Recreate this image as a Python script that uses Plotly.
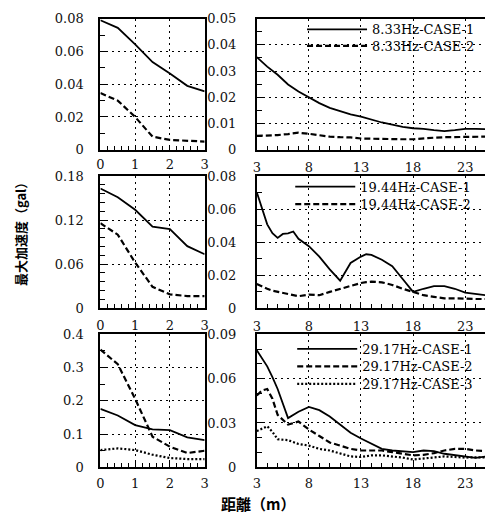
import plotly.graph_objects as go

W, H = 489, 521

# ---------------- data ----------------
# 8.33 Hz
x_near = [0, 0.5, 1, 1.5, 2, 2.5, 3]
f1_near_c1 = [0.079, 0.0744, 0.0643, 0.0535, 0.0465, 0.039, 0.0356]
f1_near_c2 = [0.0346, 0.030, 0.020, 0.008, 0.006, 0.0054, 0.005]

x_far = [3, 4, 5, 6, 7, 8, 9, 10, 11, 12, 13, 14, 15, 16, 17, 18, 19, 20, 21, 22, 23, 24, 25]
f1_far_c1 = [0.0353, 0.0317, 0.0286, 0.0249, 0.0222, 0.0200, 0.0178, 0.0160, 0.0147, 0.0135, 0.0126,
             0.0114, 0.0104, 0.0096, 0.0087, 0.0082, 0.0080, 0.0075, 0.0071, 0.0075, 0.0080, 0.0080, 0.0079]
f1_far_c2 = [0.0053, 0.0054, 0.0056, 0.0060, 0.0065, 0.0061, 0.0055, 0.0050, 0.0048, 0.0047, 0.0043,
             0.0042, 0.0040, 0.0040, 0.0040, 0.0040, 0.0044, 0.0046, 0.0048, 0.0049, 0.0050, 0.0050, 0.0050]

# 19.44 Hz
f2_near_c1 = [0.163, 0.151, 0.134, 0.111, 0.1076, 0.0844, 0.0733]
f2_near_c2 = [0.1156, 0.100, 0.062, 0.029, 0.0187, 0.0164, 0.0164]

x_far2 = [3, 3.5, 4, 4.5, 5, 5.5, 6, 6.5, 7, 8, 9, 10, 11, 12, 13, 13.5, 14, 15, 16, 17, 18, 19, 20, 21, 22, 23, 24, 25]
f2_far_c1 = [0.0702, 0.0605, 0.0507, 0.0453, 0.0425, 0.0449, 0.0453, 0.0464, 0.0420, 0.0375, 0.0312, 0.0234,
             0.0166, 0.0273, 0.0312, 0.0326, 0.0322, 0.0293, 0.0254, 0.0176, 0.0098, 0.0117, 0.0133, 0.0133,
             0.0117, 0.0094, 0.0084, 0.0078]
f2_far_c2 = [0.0146, 0.0130, 0.0117, 0.0105, 0.0098, 0.0092, 0.0088, 0.0080, 0.0072, 0.0082, 0.0078, 0.0098,
             0.0117, 0.0137, 0.0152, 0.0157, 0.0160, 0.0156, 0.0140, 0.0117, 0.0098, 0.0078, 0.0068, 0.0059,
             0.0059, 0.0055, 0.0055, 0.0055]

# 29.17 Hz
f3_near_c1 = [0.176, 0.156, 0.127, 0.114, 0.112, 0.090, 0.082]
f3_near_c2 = [0.354, 0.310, 0.206, 0.092, 0.062, 0.043, 0.050]
f3_near_c3 = [0.052, 0.057, 0.052, 0.038, 0.028, 0.025, 0.025]

x_far3 = [3, 3.5, 4, 4.5, 5, 6, 7, 8, 9, 10, 11, 12, 13, 14, 15, 16, 17, 18, 19, 20, 21, 22, 23, 24, 25]
f3_far_c1 = [0.0792, 0.0740, 0.0683, 0.0610, 0.0530, 0.0333, 0.0376, 0.0409, 0.0387, 0.0344, 0.0289, 0.0234,
             0.0195, 0.0158, 0.0125, 0.0114, 0.0107, 0.0103, 0.0114, 0.0110, 0.0092, 0.0081, 0.0070, 0.0064, 0.0074]
f3_far_c2 = [0.0486, 0.0520, 0.0530, 0.0464, 0.0355, 0.0289, 0.0310, 0.0256, 0.0212, 0.0168, 0.0147, 0.0125,
             0.0114, 0.0114, 0.0114, 0.0103, 0.0092, 0.0081, 0.0085, 0.0096, 0.0114, 0.0125, 0.0125, 0.0114, 0.0110]
f3_far_c3 = [0.0245, 0.0262, 0.0278, 0.0240, 0.0190, 0.0184, 0.0158, 0.0147, 0.0125, 0.0114, 0.0092, 0.0074,
             0.0070, 0.0081, 0.0081, 0.0074, 0.0066, 0.0053, 0.0059, 0.0066, 0.0074, 0.0070, 0.0066, 0.0068, 0.0068]

names1 = ["8.33Hz-CASE-1", "8.33Hz-CASE-2"]
names2 = ["19.44Hz-CASE-1", "19.44Hz-CASE-2"]
names3 = ["29.17Hz-CASE-1", "29.17Hz-CASE-2", "29.17Hz-CASE-3"]

# ---------------- figure ----------------
SERIF = "DejaVu Serif"
styles = [dict(color="black", width=1.8, dash="solid"),
          dict(color="black", width=2.2, dash="6px,3px"),
          dict(color="black", width=2.2, dash="2px,2px")]

fig = go.Figure()

def add(x, y, xa, ya, style, name, legend, show):
    fig.add_trace(go.Scatter(x=x, y=y, mode="lines", line=styles[style], name=name,
                             xaxis=xa, yaxis=ya, legend=legend, showlegend=show,
                             hoverinfo="skip"))

add(x_near, f1_near_c1, "x", "y", 0, names1[0], "legend", False)
add(x_near, f1_near_c2, "x", "y", 1, names1[1], "legend2", False)
add(x_far, f1_far_c1, "x2", "y2", 0, names1[0], "legend", True)
add(x_far, f1_far_c2, "x2", "y2", 1, names1[1], "legend2", True)

add(x_near, f2_near_c1, "x3", "y3", 0, names2[0], "legend3", False)
add(x_near, f2_near_c2, "x3", "y3", 1, names2[1], "legend4", False)
add(x_far2, f2_far_c1, "x4", "y4", 0, names2[0], "legend3", True)
add(x_far2, f2_far_c2, "x4", "y4", 1, names2[1], "legend4", True)

add(x_near, f3_near_c1, "x5", "y5", 0, names3[0], "legend5", False)
add(x_near, f3_near_c2, "x5", "y5", 1, names3[1], "legend6", False)
add(x_near, f3_near_c3, "x5", "y5", 2, names3[2], "legend7", False)
add(x_far3, f3_far_c1, "x6", "y6", 0, names3[0], "legend5", True)
add(x_far3, f3_far_c2, "x6", "y6", 1, names3[1], "legend6", True)
add(x_far3, f3_far_c3, "x6", "y6", 2, names3[2], "legend7", True)

def px_x(p):
    return p / W

def px_y(p):
    return 1 - p / H

tickfont = dict(family=SERIF, size=13, color="#111")
grid = dict(showgrid=True, gridcolor="black", gridwidth=1.3, griddash="2px,4px", zeroline=False)

left_dom = [px_x(98), px_x(204)]
right_dom = [px_x(257), 1.0]
rows = [[px_y(147), px_y(12)], [px_y(310), px_y(174)], [px_y(474), px_y(337)]]

def xaxis_left(dom_y_anchor, standoff=4):
    return dict(domain=left_dom, anchor=dom_y_anchor, range=[0, 3], tick0=0, dtick=1,
                showline=True, linecolor="black", linewidth=2, mirror=True,
                ticks="inside", ticklen=5, tickcolor="black",
                minor=dict(ticks="inside", dtick=0.2, ticklen=4, tickcolor="black", showgrid=False),
                tickfont=tickfont, ticklabelstandoff=standoff, **grid)

def xaxis_right(dom_y_anchor, standoff=5):
    return dict(domain=right_dom, anchor=dom_y_anchor, range=[3, 24.9], tick0=3, dtick=5,
                showline=True, linecolor="black", linewidth=2, mirror=True,
                ticks="inside", ticklen=5, tickcolor="black",
                minor=dict(ticks="inside", dtick=1, ticklen=4, tickcolor="black", showgrid=False),
                tickfont=tickfont, ticklabelstandoff=standoff, **grid)

def yaxis(dom, anchor, rng, dtick, minor, mirror, standoff):
    return dict(domain=dom, anchor=anchor, range=rng, tick0=0, dtick=dtick,
                showline=True, linecolor="black", linewidth=2, mirror=mirror,
                ticks="inside", ticklen=7, tickcolor="black",
                minor=dict(ticks="inside", dtick=minor, ticklen=5, tickcolor="black", showgrid=False),
                tickfont=tickfont, ticklabelstandoff=standoff, **grid)

fig.update_layout(
    width=W, height=H, margin=dict(l=0, r=0, t=0, b=0),
    paper_bgcolor="white", plot_bgcolor="white",
    xaxis=xaxis_left("y", 2),
    yaxis=yaxis(rows[0], "x", [0, 0.08], 0.02, 0.01, True, 12),
    xaxis2=xaxis_right("y2"),
    yaxis2=yaxis(rows[0], "x2", [0, 0.05], 0.01, 0.005, False, 16),
    xaxis3=xaxis_left("y3"),
    yaxis3=yaxis(rows[1], "x3", [0, 0.18], 0.06, 0.012, True, 12),
    xaxis4=xaxis_right("y4"),
    yaxis4=yaxis(rows[1], "x4", [0, 0.08], 0.02, 0.01, False, 16),
    xaxis5=xaxis_left("y5", 3),
    yaxis5=yaxis(rows[2], "x5", [0, 0.4], 0.1, 0.05, True, 12),
    xaxis6=xaxis_right("y6", 3),
    yaxis6=yaxis(rows[2], "x6", [0, 0.09], 0.03, 0.01, False, 16),
    showlegend=True,
)

legfont = dict(family=SERIF, size=13, color="black")
common_leg = dict(bgcolor="rgba(0,0,0,0)", borderwidth=0, font=legfont, xanchor="left",
                  yanchor="middle", itemwidth=60, tracegroupgap=0)
fig.update_layout(
    legend=dict(x=px_x(303), y=px_y(23), **common_leg),
    legend2=dict(x=px_x(303), y=px_y(40), **common_leg),
    legend3=dict(x=px_x(291), y=px_y(185), **common_leg),
    legend4=dict(x=px_x(291), y=px_y(203), **common_leg),
    legend5=dict(x=px_x(293), y=px_y(352), **common_leg),
    legend6=dict(x=px_x(293), y=px_y(370), **common_leg),
    legend7=dict(x=px_x(293), y=px_y(388), **common_leg),
)

cjk = "Noto Sans CJK JP"
fig.add_annotation(text="最大加速度（gal）", x=px_x(17), y=px_y(231), xref="paper", yref="paper",
                   xanchor="center", yanchor="middle",
                   textangle=-90, showarrow=False, font=dict(family=cjk, size=13, color="black", weight="bold"))
fig.add_annotation(text="距離（m）", x=px_x(258), y=px_y(511), xref="paper", yref="paper",
                   xanchor="center", yanchor="middle", borderpad=0,
                   showarrow=False, font=dict(family=cjk, size=15, color="black", weight="bold"))

fig.write_html("out.html", config={"displayModeBar": False},
               post_script="document.body.style.margin='0';document.body.style.overflow='hidden';")
